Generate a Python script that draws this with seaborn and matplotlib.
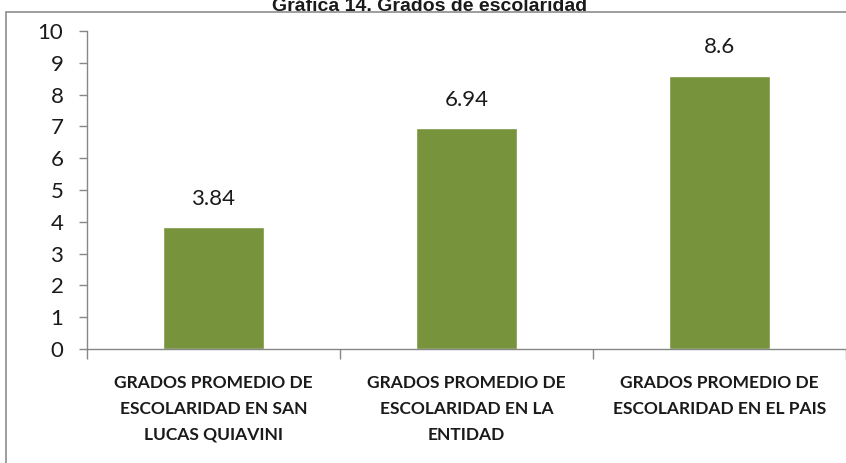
import matplotlib
matplotlib.use("Agg")
import matplotlib.pyplot as plt
import seaborn as sns
import pandas as pd
from matplotlib.patches import Rectangle

categories = ["GRADOS PROMEDIO DE\nESCOLARIDAD EN SAN\nLUCAS QUIAVINI",
              "GRADOS PROMEDIO DE\nESCOLARIDAD EN LA\nENTIDAD",
              "GRADOS PROMEDIO DE\nESCOLARIDAD EN EL PAIS"]
values = [3.84, 6.94, 8.6]
value_labels = ["3.84", "6.94", "8.6"]
title = "Gráfica 14. Grados de escolaridad"

sns.set_theme(style="white")
plt.rcParams['font.family'] = ['Lato', 'DejaVu Sans']

df = pd.DataFrame({"cat": categories, "val": values})

fig = plt.figure(figsize=(8.46, 4.63), dpi=100)
ax = fig.add_axes([87/846, 1-349/463, 1-87/846, (349-31)/463])

sns.barplot(data=df, x="cat", y="val", color="#77933C", width=0.4,
            saturation=1, ax=ax)

ax.set_ylim(0, 10)
ax.set_xlim(-0.5, 2.5)
ax.set_yticks(range(0, 11))
ax.set_xlabel("")
ax.set_ylabel("")
gray = "#868686"
for s in ["top", "right"]:
    ax.spines[s].set_visible(False)
for s in ["left", "bottom"]:
    ax.spines[s].set_color(gray)
    ax.spines[s].set_linewidth(1.0)
ax.tick_params(axis="y", length=6, color=gray, width=1, labelsize=16,
               pad=11, left=True, labelcolor="#1a1a1a")
ax.tick_params(axis="x", which="major", length=0, pad=19, labelsize=12.5)
for lab in ax.get_xticklabels():
    lab.set_fontweight("bold")
    lab.set_linespacing(1.75)
    lab.set_color("#1a1a1a")
ax.set_xticks([-0.5, 0.5, 1.5, 2.5], minor=True)
ax.tick_params(axis="x", which="minor", length=7, color=gray, width=1,
               bottom=True, direction="out")

for i, (v, t) in enumerate(zip(values, value_labels)):
    ax.annotate(t, (i, v), xytext=(0, 13), textcoords="offset points",
                ha="center", va="bottom", fontsize=16, color="#1a1a1a")

fig.patches.append(Rectangle((6/846, -0.1), 1.2, 1.1 - 12/463 + 0.0,
                             transform=fig.transFigure, fill=False,
                             edgecolor="#8c8c8c", linewidth=1.2))
fig.text(430/846, 1-11/463, title, ha="center", va="baseline",
         fontsize=14, fontweight="bold", family=["Liberation Sans", "DejaVu Sans"],
         color="#1a1a1a")

fig.savefig("out.png", dpi=100)
